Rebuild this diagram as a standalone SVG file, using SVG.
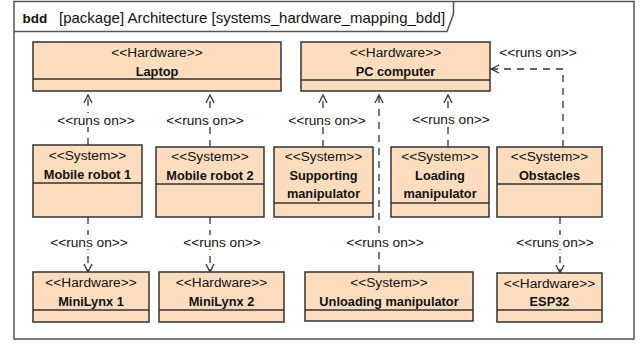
<svg xmlns="http://www.w3.org/2000/svg" width="641" height="344" viewBox="0 0 641 344">
<style>
.frame{fill:#fff;stroke:#555;stroke-width:1.5}
.box{fill:#FEDDBE;stroke:#333;stroke-width:1.5}
.div{stroke:#333;stroke-width:1.5}
.st{font-family:"Liberation Sans",Arial,sans-serif;font-size:13.7px;fill:#111;text-anchor:middle}
.nm{font-family:"Liberation Sans",Arial,sans-serif;font-size:12.8px;font-weight:bold;fill:#111;text-anchor:middle}
.lbl{font-family:"Liberation Sans",Arial,sans-serif;font-size:13.7px;fill:#111;text-anchor:middle}
.dash{fill:none;stroke:#333;stroke-width:1.3;stroke-dasharray:7,6}
.head{fill:none;stroke:#333;stroke-width:1.3}
.bg{fill:#fff}
.ttl{font-family:"Liberation Sans",Arial,sans-serif;fill:#111}
</style>
<rect width="641" height="344" fill="#fff"/>
<g id="frame">
<rect class="frame" x="14" y="1.5" width="620" height="337.5"/>
<path d="M14,31.5 H447 L453.5,14 V1.5" fill="none" stroke="#555" stroke-width="1.5"/>
<text class="ttl" x="22.5" y="23" font-size="13.5px" font-weight="bold">bdd</text>
<text class="ttl" x="59" y="23" font-size="15px">[package] Architecture [systems_hardware_mapping_bdd]</text>
</g>
<g id="connectors">
<path class="dash" d="M88,145 V96"/>
<path class="dash" d="M210,147 V96"/>
<path class="dash" d="M323,147 V96"/>
<path class="dash" d="M379,272 V96"/>
<path class="dash" d="M448,147 V96"/>
<path class="dash" d="M563,147 V69 H492"/>
<path class="dash" d="M88,217 V271"/>
<path class="dash" d="M210,217 V271"/>
<path class="dash" d="M560,217 V272"/>
<path class="head" d="M84,103 L88,95 L92,103"/>
<path class="head" d="M206,103 L210,95 L214,103"/>
<path class="head" d="M319,103 L323,95 L327,103"/>
<path class="head" d="M375,103 L379,95 L383,103"/>
<path class="head" d="M444,103 L448,95 L452,103"/>
<path class="head" d="M499,65 L491,69 L499,73"/>
<path class="head" d="M84,264 L88,272 L92,264"/>
<path class="head" d="M206,264 L210,272 L214,264"/>
<path class="head" d="M556,265 L560,273 L564,265"/>
<rect class="bg" x="57" y="113" width="78" height="14"/>
<text class="lbl" x="96" y="125">&lt;&lt;runs on&gt;&gt;</text>
<rect class="bg" x="167" y="113" width="77" height="14"/>
<text class="lbl" x="205" y="125">&lt;&lt;runs on&gt;&gt;</text>
<rect class="bg" x="288" y="113" width="78" height="14"/>
<text class="lbl" x="327" y="125">&lt;&lt;runs on&gt;&gt;</text>
<rect class="bg" x="412" y="112" width="78" height="14"/>
<text class="lbl" x="451" y="124">&lt;&lt;runs on&gt;&gt;</text>
<rect class="bg" x="500" y="45" width="78" height="14"/>
<text class="lbl" x="538" y="57">&lt;&lt;runs on&gt;&gt;</text>
<rect class="bg" x="50" y="235" width="78" height="14"/>
<text class="lbl" x="89" y="247">&lt;&lt;runs on&gt;&gt;</text>
<rect class="bg" x="183" y="235" width="78" height="14"/>
<text class="lbl" x="222" y="247">&lt;&lt;runs on&gt;&gt;</text>
<rect class="bg" x="346" y="235" width="78" height="14"/>
<text class="lbl" x="385" y="247">&lt;&lt;runs on&gt;&gt;</text>
<rect class="bg" x="516" y="235" width="78" height="14"/>
<text class="lbl" x="555" y="247">&lt;&lt;runs on&gt;&gt;</text>
</g>
<g id="laptop">
<rect class="box" x="33" y="42" width="248" height="49"/>
<line class="div" x1="33" y1="79" x2="281" y2="79"/>
<text class="st" x="157" y="57">&lt;&lt;Hardware&gt;&gt;</text>
<text class="nm" x="157" y="76">Laptop</text>
</g>
<g id="pc-computer">
<rect class="box" x="301" y="42" width="189" height="49"/>
<line class="div" x1="301" y1="80" x2="490" y2="80"/>
<text class="st" x="395.5" y="57">&lt;&lt;Hardware&gt;&gt;</text>
<text class="nm" x="395.5" y="76">PC computer</text>
</g>
<g id="mobile-robot-1">
<rect class="box" x="33" y="145" width="109" height="72"/>
<line class="div" x1="33" y1="183" x2="142" y2="183"/>
<text class="st" x="87.5" y="160">&lt;&lt;System&gt;&gt;</text>
<text class="nm" x="87.5" y="179">Mobile robot 1</text>
</g>
<g id="mobile-robot-2">
<rect class="box" x="156" y="147" width="108" height="70"/>
<line class="div" x1="156" y1="184" x2="264" y2="184"/>
<text class="st" x="210" y="161">&lt;&lt;System&gt;&gt;</text>
<text class="nm" x="210" y="180">Mobile robot 2</text>
</g>
<g id="supporting-manipulator">
<rect class="box" x="274" y="147" width="99" height="70"/>
<line class="div" x1="274" y1="203" x2="373" y2="203"/>
<text class="st" x="323.5" y="161">&lt;&lt;System&gt;&gt;</text>
<text class="nm" x="323.5" y="180">Supporting</text>
<text class="nm" x="323.5" y="198">manipulator</text>
</g>
<g id="loading-manipulator">
<rect class="box" x="391" y="147" width="98" height="70"/>
<line class="div" x1="391" y1="203" x2="489" y2="203"/>
<text class="st" x="440" y="161">&lt;&lt;System&gt;&gt;</text>
<text class="nm" x="440" y="180">Loading</text>
<text class="nm" x="440" y="198">manipulator</text>
</g>
<g id="obstacles">
<rect class="box" x="497" y="147" width="105" height="70"/>
<line class="div" x1="497" y1="184" x2="602" y2="184"/>
<text class="st" x="549.5" y="161">&lt;&lt;System&gt;&gt;</text>
<text class="nm" x="549.5" y="180">Obstacles</text>
</g>
<g id="minilynx-1">
<rect class="box" x="33" y="272" width="116" height="50"/>
<line class="div" x1="33" y1="310" x2="149" y2="310"/>
<text class="st" x="91" y="287">&lt;&lt;Hardware&gt;&gt;</text>
<text class="nm" x="91" y="306">MiniLynx 1</text>
</g>
<g id="minilynx-2">
<rect class="box" x="159" y="272" width="125" height="50"/>
<line class="div" x1="159" y1="310" x2="284" y2="310"/>
<text class="st" x="221.5" y="287">&lt;&lt;Hardware&gt;&gt;</text>
<text class="nm" x="221.5" y="306">MiniLynx 2</text>
</g>
<g id="unloading-manipulator">
<rect class="box" x="305" y="272" width="168" height="49"/>
<line class="div" x1="305" y1="310" x2="473" y2="310"/>
<text class="st" x="389" y="287">&lt;&lt;System&gt;&gt;</text>
<text class="nm" x="389" y="306">Unloading manipulator</text>
</g>
<g id="esp32">
<rect class="box" x="497" y="273" width="105" height="49"/>
<line class="div" x1="497" y1="310" x2="602" y2="310"/>
<text class="st" x="549.5" y="288">&lt;&lt;Hardware&gt;&gt;</text>
<text class="nm" x="549.5" y="306">ESP32</text>
</g>
</svg>
